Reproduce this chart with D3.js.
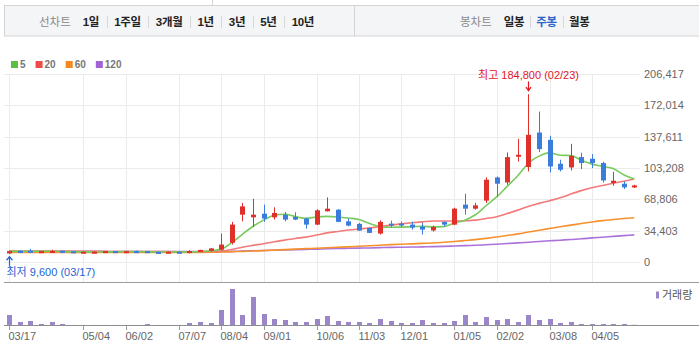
<!DOCTYPE html>
<html><head><meta charset="utf-8">
<script src="https://cdn.jsdelivr.net/npm/d3@7"></script>
<style>
html,body{margin:0;padding:0;background:#fff;}
svg{display:block;font-family:"Liberation Sans","Noto Sans CJK KR",sans-serif;}
</style></head><body>
<svg id="c" width="699" height="360"></svg>
<script>
// ---------- data ----------
const dates = [
"2014-03-17","2014-03-24","2014-03-31","2014-04-07","2014-04-14","2014-04-21","2014-04-28","2014-05-04","2014-05-12","2014-05-19",
"2014-05-26","2014-06-02","2014-06-09","2014-06-16","2014-06-23","2014-06-30","2014-07-07","2014-07-14","2014-07-21","2014-07-28",
"2014-08-04","2014-08-11","2014-08-18","2014-08-25","2014-09-01","2014-09-08","2014-09-15","2014-09-22","2014-09-29","2014-10-06",
"2014-10-13","2014-10-20","2014-10-27","2014-11-03","2014-11-10","2014-11-17","2014-11-24","2014-12-01","2014-12-08","2014-12-15",
"2014-12-22","2014-12-29","2015-01-05","2015-01-12","2015-01-19","2015-01-26","2015-02-02","2015-02-09","2015-02-16","2015-02-23",
"2015-03-02","2015-03-08","2015-03-16","2015-03-23","2015-03-30","2015-04-05","2015-04-13","2015-04-20","2015-04-27","2015-05-04"];
const open = [10000,12600,12800,12000,12000,12800,12200,10800,11000,11000,
12500,11000,12500,12400,11600,11000,11800,11000,12000,12800,
14000,21600,52500,49600,53600,49600,52500,50000,48200,41600,
56200,58000,45200,42400,38000,31800,42700,42700,41600,39400,
35200,44600,41600,63500,59100,67900,93400,87900,116400,104800,
142700,134700,108400,104400,115700,113900,109200,87300,86500,82500];
const high = [13000,13600,15000,12800,14000,13000,12400,12000,12500,12600,
12600,12500,13000,12500,11800,12000,12000,13500,14000,16000,
31800,44600,65400,70000,63500,60600,55500,55100,49000,58400,
71500,58500,48200,43500,38500,46300,46000,45000,44900,43800,
40500,44800,60200,75600,65400,93400,94500,120800,135800,184800,
165700,139100,112800,130300,120500,119000,110600,99600,89000,85400];
const low = [9600,11800,11800,10800,11500,11000,10600,10500,10500,10800,
11000,10900,10500,11000,10900,10800,10800,10200,11800,12500,
13000,19700,45200,39100,44600,47100,45200,46500,37200,41000,
56000,44300,39700,34800,32300,30700,38500,39000,36100,30700,
34000,39400,41000,52600,58000,65400,71900,85400,110900,100000,
121200,98900,100000,101100,102600,103700,87900,84300,80700,81800];
const close = [12500,12000,12200,12400,12600,11200,10800,11800,11800,12500,
11200,12400,11500,11200,11000,11800,11000,12500,13800,15500,
19700,41600,61600,52500,48200,54400,47100,47100,41600,57300,
59100,44600,40500,35000,32500,44600,40500,40800,38300,36100,
39000,41600,59100,59100,62700,90900,86500,115700,118300,140200,
124500,105400,101800,117200,109200,109200,90100,89800,82500,84600];
const volume = [1000,300,400,100,300,100,5,5,5,5,
5,5,5,100,5,5,5,200,300,200,
1500,3600,1000,2800,1100,600,500,300,300,600,
900,400,300,300,200,600,400,200,200,500,
200,200,400,1000,300,800,500,600,300,1000,
500,600,200,300,100,100,100,100,100,20];
const ma5 = [12200,12300,12400,12300,12300,12100,11800,11700,11600,11600,
11800,11900,11900,11800,11600,11600,11400,11600,12000,12900,
14700,21800,31000,39500,46500,51900,53000,50500,48500,50000,
50600,50000,48800,47300,42800,39400,38700,38800,39300,39700,
39100,39400,43200,46500,52400,62300,72000,83600,95200,109000,
116800,120400,117800,117500,112400,108000,105500,103200,96300,91600];
const ma20 = [12800,12700,12700,12600,12600,12500,12400,12300,12200,12200,
12100,12100,12000,12000,11900,11900,11800,11800,11900,12000,
12600,14300,16800,18800,20600,22800,24600,26400,27900,30100,
32500,34100,35600,36800,37900,39500,41000,42400,43600,44600,
45600,45600,45500,45800,46500,48300,50300,53700,57500,61600,
64900,67900,71000,75100,78900,82100,84600,87000,89200,91600];
const ma60 = [10900,10900,10900,10900,10900,10900,10900,10900,10900,10900,
10900,10900,10900,10900,10900,10900,11000,11000,11100,11200,
11500,11800,12200,12600,13000,13600,14100,14700,15200,15700,
16200,16700,17200,17800,18400,19000,19600,20100,20500,21000,
21400,22200,23100,24100,25100,26500,28000,29700,31400,33400,
35400,37300,39200,41000,42800,44500,46000,47200,48300,49200];
const ma120 = [12400,12400,12400,12350,12300,12300,12250,12200,12200,12150,
12100,12100,12050,12000,12000,11950,11950,11900,11900,11950,
12000,12200,12600,12900,13200,13500,13800,14100,14400,14700,
15100,15400,15600,15800,16000,16300,16600,16800,17000,17200,
17400,17700,18100,18500,18900,19500,20100,20800,21500,22300,
23100,23800,24500,25300,26000,27000,27800,28700,29500,30300];
const tickDates = ["2014-03-17","2014-05-04","2014-06-02","2014-07-07","2014-08-04","2014-09-01",
"2014-10-06","2014-11-03","2014-12-01","2015-01-05","2015-02-02","2015-03-08","2015-04-05"];
const yTicks = [0,34403,68806,103208,137611,172014,206417];
const maNames = ["5","20","60","120"];
const maColors = ["#5cbf44","#ef4a4a","#f5871f","#a262d6"];
const maLineColors = ["#78cb5e","#f27a7a","#f5922e","#ab72db"];
const rangeLabel = "선차트";
const rangeButtons = ["1일","1주일","3개월","1년","3년","5년","10년"];
const candleLabel = "봉차트";
const candleButtons = ["일봉","주봉","월봉"];
const activeCandle = "주봉";
const volumeLabel = "거래량";

// ---------- setup ----------
const svg = d3.select("#c");
const RED = "#e0302a", BLUE = "#3a7ddd";
const fmtDate = d => d.slice(5).replace("-","/");
const x = d3.scalePoint().domain(dates).range([9.3, 634.3]);
const y = d3.scaleLinear().domain([0, 206417]).range([262.5, 74.5]);
const yv = d3.scaleLinear().domain([0, 4300]).range([325, 282]);
const px = d => Math.round(x(d));

// ---------- top bar ----------
const topBar = svg.append("g");
topBar.append("line").attr("x1",212.5).attr("x2",212.5).attr("y1",0).attr("y2",5.5).attr("stroke","#d6d6d6");
topBar.append("rect").attr("x",4.5).attr("y",5.5).attr("width",700).attr("height",30.5)
  .attr("fill","#f4f5f7").attr("stroke","#d4d4d6");
topBar.append("line").attr("x1",354.5).attr("x2",354.5).attr("y1",5.5).attr("y2",36).attr("stroke","#d4d4d6");
function buttonRow(label, items, x0, gap, active){
  const g = topBar.append("g");
  let cx = x0;
  const t = g.append("text").attr("x",cx).attr("y",26).attr("font-size","11.5px").attr("fill","#8a8a8a").text(label);
  cx += t.node().getComputedTextLength() + 12;
  items.forEach((it,i)=>{
    if(i>0){
      g.append("line").attr("x1",Math.round(cx)+0.5).attr("x2",Math.round(cx)+0.5).attr("y1",16).attr("y2",28).attr("stroke","#d8d8d8");
      cx += gap;
    }
    const tt = g.append("text").attr("x",cx).attr("y",26).attr("font-size","11.5px").attr("font-weight","bold")
      .attr("fill", it===active ? "#2f63c6" : "#222").attr("letter-spacing","-0.3px").text(it);
    cx += tt.node().getComputedTextLength() + gap;
  });
}
buttonRow(rangeLabel, rangeButtons, 39, 7.5, null);
buttonRow(candleLabel, candleButtons, 460, 6, activeCandle);

// ---------- legend ----------
let lx = 11;
maNames.forEach((n,i)=>{
  svg.append("rect").attr("x",lx).attr("y",61).attr("width",7).attr("height",7).attr("fill",maColors[i]);
  const t = svg.append("text").attr("x",lx+9).attr("y",68).attr("font-size","10px").attr("font-weight","bold")
    .attr("fill","#777").text(n);
  lx += 9 + t.node().getComputedTextLength() + 10;
});

// ---------- grid + axes ----------
const gy = svg.append("g").attr("transform","translate(4,0)")
  .call(d3.axisRight(y).tickValues(yTicks).tickSize(636).tickPadding(4).tickFormat(d3.format(",")));
gy.select(".domain").remove();
gy.selectAll(".tick").attr("transform", d => `translate(0,${Math.floor(y(d))+0.5})`);
gy.selectAll(".tick line").attr("stroke","#ebebeb");
gy.selectAll(".tick text").attr("fill","#666").attr("font-size","11px").attr("font-family","Liberation Sans, Arial, sans-serif");

const gx = svg.append("g").attr("transform","translate(0,282)")
  .call(d3.axisBottom(x).tickValues(tickDates).tickSize(-(282-74.5)).tickFormat(""));
gx.select(".domain").remove();
gx.selectAll(".tick").attr("transform", d => `translate(${px(d)+0.5},0)`);
gx.selectAll(".tick line").attr("stroke","#ebebeb");

svg.append("line").attr("x1",4).attr("x2",699).attr("y1",282.5).attr("y2",282.5).attr("stroke","#9c9c9c");

// ---------- moving averages ----------
const maSeries = [ma120, ma60, ma20, ma5];
const maCols = [maLineColors[3], maLineColors[2], maLineColors[1], maLineColors[0]];
maSeries.forEach((s,k)=>{
  const line = d3.line().x((d,i)=>x(dates[i])).y(d=>y(d)).curve(d3.curveMonotoneX);
  svg.append("path").attr("d", line(s)).attr("fill","none").attr("stroke",maCols[k])
    .attr("stroke-width",1.6).attr("stroke-linejoin","round");
});

// ---------- candles ----------
const cg = svg.append("g");
dates.forEach((d,i)=>{
  const col = close[i] >= open[i] ? RED : BLUE;
  const cx = px(d);
  cg.append("line").attr("x1",cx+0.5).attr("x2",cx+0.5).attr("y1",y(high[i])).attr("y2",y(low[i]))
    .attr("stroke",col).attr("stroke-width",1);
  const y1 = y(Math.max(open[i],close[i])), y2 = y(Math.min(open[i],close[i]));
  cg.append("rect").attr("x",cx-2).attr("y",y1).attr("width",5).attr("height",Math.max(2,y2-y1)).attr("fill",col);
});

// ---------- high / low annotations ----------
const hi = d3.maxIndex(high), lo = d3.minIndex(low);
const hx = px(dates[hi]) + 0.5;
svg.append("text").attr("x",hx).attr("y",78.5).attr("text-anchor","middle").attr("font-size","11px")
  .attr("fill","#e3161e").text(`최고 ${d3.format(",")(high[hi])} (${fmtDate(dates[hi])})`);
svg.append("path").attr("d",`M${hx},81.5V${y(high[hi])-3.5}M${hx-2.5},${y(high[hi])-7}L${hx},${y(high[hi])-3.5}L${hx+2.5},${y(high[hi])-7}`)
  .attr("stroke","#e3161e").attr("fill","none").attr("stroke-width",1.2);
const lxp = px(dates[lo]) + 0.5;
svg.append("path").attr("d",`M${lxp},${y(low[lo])+3}V266.5M${lxp-3},${y(low[lo])+6.5}L${lxp},${y(low[lo])+3}L${lxp+3},${y(low[lo])+6.5}`)
  .attr("stroke","#2563d6").attr("fill","none").attr("stroke-width",1.2);
svg.append("text").attr("x",6.5).attr("y",276).attr("font-size","11px").attr("fill","#2563d6")
  .text(`최저 ${d3.format(",")(low[lo])} (${fmtDate(dates[lo])})`);

// ---------- volume ----------
svg.append("g").selectAll("rect").data(volume).join("rect")
  .attr("x",(v,i)=>px(dates[i])-2).attr("width",5)
  .attr("y",v=>yv(v)).attr("height",v=>yv(0)-yv(v)).attr("fill","#9a86c8");

const xa = svg.append("g").attr("transform","translate(0,325)")
  .call(d3.axisBottom(x).tickValues(tickDates).tickSize(5).tickPadding(2).tickFormat(fmtDate));
xa.select(".domain").remove();
xa.selectAll(".tick").attr("transform", d => `translate(${px(d)+0.5},0)`);
xa.selectAll(".tick line").attr("stroke","#9c9c9c");
xa.selectAll(".tick text").attr("text-anchor","start").attr("x",-1).attr("fill","#666")
  .attr("font-size","11px").attr("font-family","Liberation Sans, Arial, sans-serif");
svg.append("line").attr("x1",4).attr("x2",699).attr("y1",325.5).attr("y2",325.5).attr("stroke","#8e8e8e");

svg.append("rect").attr("x",656).attr("y",291.5).attr("width",3).attr("height",7).attr("fill","#9a86c8");
svg.append("text").attr("x",662).attr("y",299).attr("font-size","11px").attr("fill","#555").text(volumeLabel);
</script>
</body></html>
